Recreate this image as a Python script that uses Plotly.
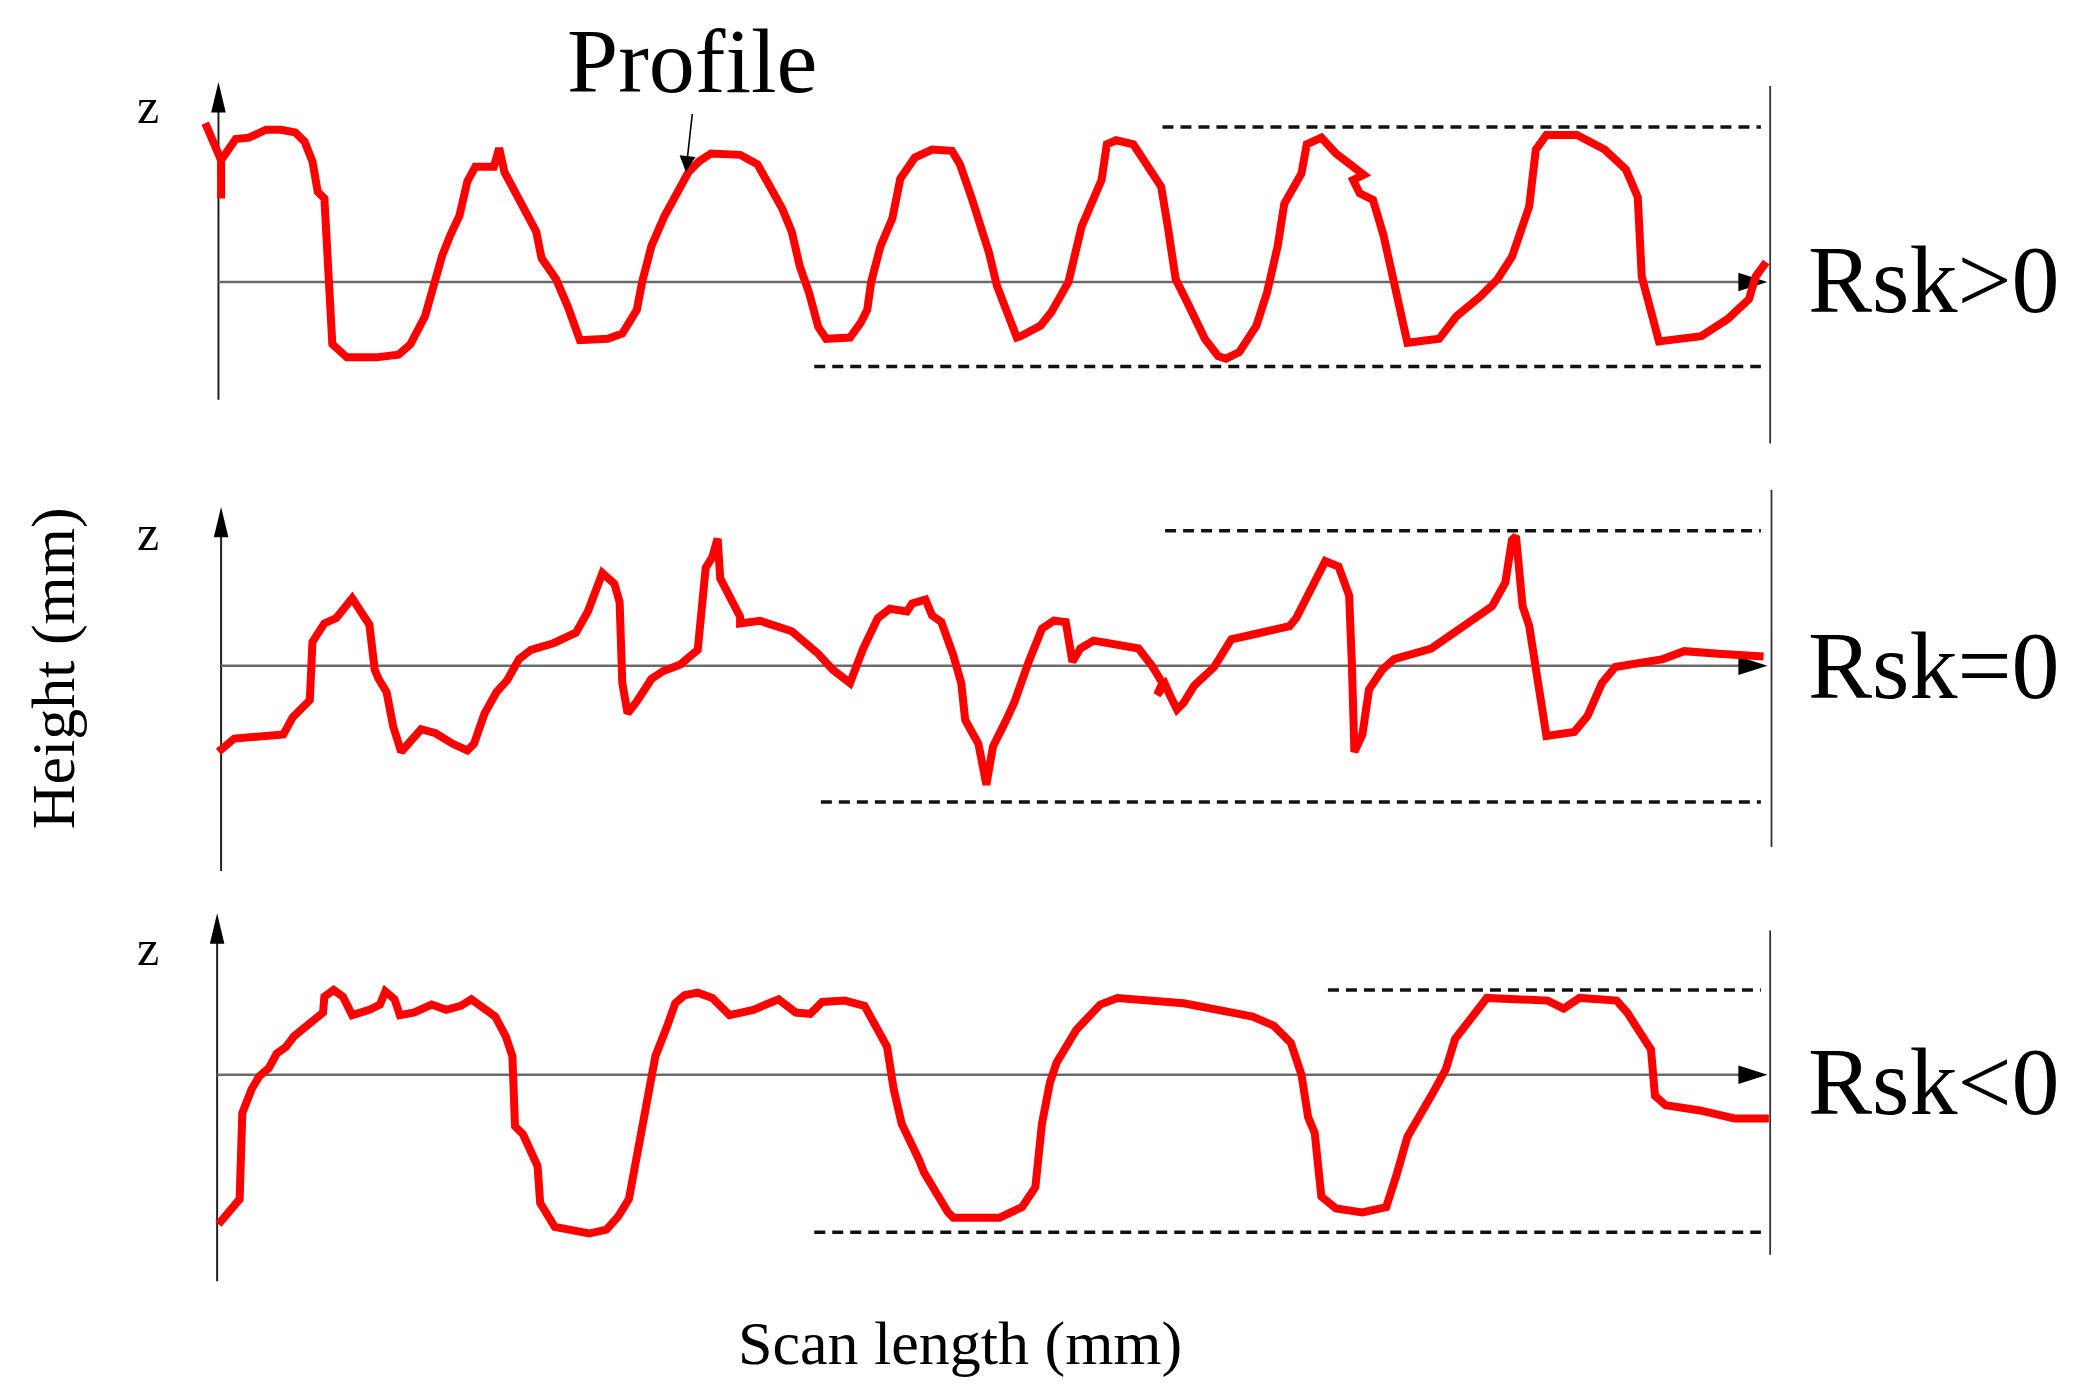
import plotly.graph_objects as go

# Digitised surface profiles: scan position and height about the mean line
# (same arbitrary length unit on both axes, origin at the z axis)
p1_x = [-10, 2, 2, 2, 13, 23, 36, 47, 58, 65,
        71, 75, 80, 83, 86, 97, 119, 136, 145, 156,
        162, 169, 175, 182, 188, 194, 208, 212, 216, 221,
        231, 240, 244, 255, 264, 273, 294, 305, 310, 316,
        320, 327, 337, 346, 355, 363, 372, 394, 407, 416,
        426, 433, 439, 446, 453, 459, 477, 485, 490, 493,
        500, 509, 515, 526, 539, 554, 560, 569, 582, 588,
        597, 603, 606, 621, 629, 642, 652, 667, 671, 678,
        691, 699, 712, 717, 723, 732, 745, 755, 761, 771,
        784, 792, 800, 805, 818, 822, 833, 844, 865, 857,
        862, 872, 880, 888, 893, 898, 922, 935, 953, 966,
        977, 990, 995, 1003, 1026, 1047, 1063, 1072, 1075, 1088,
        1120, 1140, 1156, 1161, 1169]
p1_z = [120, 92, 63, 92, 108, 109, 115, 115, 113, 106,
        91, 68, 63, 2, -47, -57, -57, -55, -47, -26,
        -3, 20, 35, 50, 76, 87, 87, 101, 83, 73,
        53, 38, 18, 2, -19, -44, -43, -39, -31, -21,
        0, 27, 50, 68, 83, 91, 97, 96, 89, 73,
        55, 38, 12, -8, -34, -43, -42, -31, -21, 0,
        27, 48, 78, 94, 100, 99, 89, 63, 22, -3,
        -29, -42, -41, -33, -23, 0, 42, 77, 104, 107,
        104, 92, 72, 42, 2, -16, -43, -56, -58, -53,
        -33, -8, 27, 59, 82, 104, 109, 97, 81, 77,
        67, 62, 35, -1, -23, -46, -43, -26, -11, 2,
        19, 57, 100, 111, 111, 100, 85, 64, 4, -45,
        -41, -28, -13, 4, 15]

p2_x = [0, 12, 49, 56, 64, 69, 71, 80, 89, 101,
        114, 118, 121, 127, 132, 138, 153, 164, 177, 188,
        193, 201, 210, 218, 227, 236, 253, 266, 270, 279,
        284, 290, 299, 303, 305, 309, 316, 327, 336, 349,
        362, 368, 373, 377, 379, 388, 394, 394, 409, 433,
        453, 464, 477, 487, 498, 507, 520, 524, 534, 539,
        546, 555, 561, 564, 574, 580, 585, 594, 601, 612,
        622, 631, 640, 645, 651, 661, 679, 695, 705, 713,
        709, 715, 719, 724, 729, 737, 752, 765, 783, 809,
        814, 826, 836, 846, 854, 856, 858, 864, 869, 879,
        888, 916, 931, 952, 962, 972, 977, 980, 985, 990,
        1003, 1024, 1034, 1045, 1055, 1091, 1107, 1133, 1167]
p2_z = [-65, -55, -52, -39, -31, -26, 18, 32, 36, 51,
        31, -3, -10, -20, -46, -65, -48, -51, -59, -64,
        -59, -36, -20, -11, 5, 12, 17, 22, 25, 41,
        55, 70, 62, 48, -13, -36, -27, -10, -4, 1,
        12, 74, 82, 96, 66, 48, 37, 32, 34, 26,
        9, -3, -13, 13, 36, 43, 41, 47, 50, 38,
        33, 8, -13, -41, -59, -90, -61, -43, -28, 3,
        28, 34, 33, 3, 13, 19, 16, 13, 0, -13,
        -22, -14, -23, -33, -28, -15, -1, 20, 24, 30,
        36, 58, 79, 75, 53, 3, -65, -52, -18, -3,
        5, 13, 23, 38, 45, 63, 95, 98, 45, 30,
        -53, -50, -38, -13, -1, 5, 11, 9, 7]

p3_x = [0, 16, 18, 25, 31, 38, 44, 51, 57, 68,
        79, 80, 87, 94, 101, 114, 122, 126, 133, 137,
        148, 161, 172, 183, 191, 198, 209, 217, 222, 224,
        230, 241, 243, 254, 280, 293, 302, 310, 315, 321,
        326, 330, 339, 345, 352, 362, 373, 386, 404, 423,
        436, 447, 456, 473, 488, 505, 510, 516, 529, 533,
        551, 555, 590, 607, 617, 622, 628, 633, 648, 666,
        679, 729, 781, 797, 810, 818, 823, 828, 833, 844,
        864, 882, 890, 898, 916, 927, 934, 947, 958, 1004,
        1016, 1028, 1056, 1064, 1082, 1085, 1093, 1119, 1145, 1171]
p3_z = [-113, -94, -29, -11, -1, 5, 16, 21, 29, 39,
        47, 59, 64, 59, 45, 49, 53, 63, 57, 45,
        47, 53, 49, 52, 57, 52, 44, 29, 14, -39,
        -45, -69, -97, -115, -120, -117, -107, -94, -67, -42,
        -11, 14, 37, 54, 60, 62, 58, 45, 49, 57,
        47, 46, 55, 56, 52, 21, -11, -37, -64, -74,
        -104, -108, -108, -100, -85, -37, -6, 9, 34, 53,
        58, 54, 44, 37, 24, 0, -32, -44, -92, -101,
        -104, -100, -75, -47, -16, 4, 27, 44, 58, 56,
        50, 58, 56, 47, 19, -16, -23, -27, -33, -33]

rsk_labels = ["Rsk>0", "Rsk=0", "Rsk<0"]
# dashed lines marking the highest peak / deepest valley
peak_level = [117, 102, 64]
peak_start = [713, 715, 838]
valley_level = [-64, -103, -119]
valley_start = [450, 455, 450]
dash_end = 1165

FONT = "Liberation Serif, Times New Roman, serif"

# page geometry: the page body keeps an 8px margin, so the figure is drawn
# inside it and the panel positions are mapped from a 1568 x 1054 grid
PAGE_W, PAGE_H = 2076, 1395
BODY = 8
FIG_W, FIG_H = PAGE_W - 2 * BODY, PAGE_H - 2 * BODY
GRID_W, GRID_H = 1568, 1054
SX, SY = PAGE_W / GRID_W, PAGE_H / GRID_H


def paper_x(p):
    return (p * SX - BODY) / FIG_W


def paper_y(p):
    return 1 - (p * SY - BODY) / FIG_H


AXIS_X = 165                     # grid column of the z axes
base_px = [213, 503, 812]        # grid row of each mean line
window_px = [(40, 350), (355, 670), (675, 985)]
axis_x0 = [0, 2, -1]
axis_top = [151, 120, 122]
axis_bottom = [-89, -155, -156]
frame_x = [1172, 1173, 1172]
frame_z = [(-122, 148), (-137, 133), (-136, 109)]
z_label_z = [133, 100, 96]
rsk_z = [2, 0, -5]
arrow_end = 1170

x_range = [BODY / SX - AXIS_X, (PAGE_W - BODY) / SX - AXIS_X]

fig = go.Figure()
shapes, annotations = [], []

for i, (xs, zs) in enumerate([(p1_x, p1_z), (p2_x, p2_z), (p3_x, p3_z)]):
    n = "" if i == 0 else str(i + 1)
    xa, ya = "x" + n, "y" + n
    top, bot = window_px[i]
    b = base_px[i]
    fig.update_layout(**{
        "xaxis" + n: dict(domain=[0, 1], range=x_range,
                          visible=False, anchor=ya, fixedrange=True),
        "yaxis" + n: dict(domain=[paper_y(bot), paper_y(top)],
                          range=[b - bot, b - top], visible=False,
                          anchor=xa, fixedrange=True),
    })

    dash = dict(color="#111111", width=3.5, dash="11px,7px")
    fig.add_trace(go.Scatter(x=[peak_start[i], dash_end], y=[peak_level[i]] * 2,
                             xaxis=xa, yaxis=ya, mode="lines", line=dash,
                             showlegend=False, hoverinfo="skip"))
    fig.add_trace(go.Scatter(x=[valley_start[i], dash_end], y=[valley_level[i]] * 2,
                             xaxis=xa, yaxis=ya, mode="lines", line=dash,
                             showlegend=False, hoverinfo="skip"))
    fig.add_trace(go.Scatter(x=xs, y=zs, xaxis=xa, yaxis=ya, mode="lines",
                             line=dict(color="#ff0000", width=8),
                             showlegend=False, hoverinfo="skip"))

    x0 = axis_x0[i]
    # z axis with arrow
    shapes.append(dict(type="line", xref=xa, yref=ya, x0=x0, x1=x0,
                       y0=axis_bottom[i], y1=axis_top[i] - 18,
                       line=dict(color="#222222", width=2), layer="below"))
    shapes.append(dict(type="path", xref=xa, yref=ya, layer="below",
                       path=f"M {x0},{axis_top[i]} L {x0 - 5.5},{axis_top[i] - 23} "
                            f"L {x0 + 5.5},{axis_top[i] - 23} Z",
                       fillcolor="#000000", line=dict(width=0)))
    # mean line with arrow
    shapes.append(dict(type="line", xref=xa, yref=ya, x0=x0, x1=arrow_end - 18,
                       y0=0, y1=0, line=dict(color="#6a6a6a", width=2.5),
                       layer="below"))
    shapes.append(dict(type="path", xref=xa, yref=ya, layer="below",
                       path=f"M {arrow_end},0 L {arrow_end - 22},7 L {arrow_end - 22},-7 Z",
                       fillcolor="#000000", line=dict(width=0)))
    # right frame line
    shapes.append(dict(type="line", xref=xa, yref=ya, x0=frame_x[i], x1=frame_x[i],
                       y0=frame_z[i][0], y1=frame_z[i][1],
                       line=dict(color="#333333", width=1.8), layer="below"))

    annotations.append(dict(text="z", xref=xa, yref=ya, x=-53, y=z_label_z[i],
                            showarrow=False, font=dict(family=FONT, size=50, color="black")))
    annotations.append(dict(text=rsk_labels[i], xref=xa, yref=ya, x=1199, y=rsk_z[i],
                            xanchor="left", yanchor="middle", showarrow=False,
                            font=dict(family=FONT, size=96, color="black")))

# "Profile" callout
annotations.append(dict(text="Profile", xref="x", yref="y", x=358, y=167,
                        showarrow=False, font=dict(family=FONT, size=92, color="black")))
annotations.append(dict(text="", xref="x", yref="y", axref="x", ayref="y",
                        x=353, y=83, ax=358, ay=128, showarrow=True,
                        arrowhead=2, arrowsize=2, arrowwidth=1.6, arrowcolor="black"))

annotations.append(dict(text="Height (mm)", xref="paper", yref="paper",
                        x=paper_x(40), y=paper_y(505), xanchor="center",
                        yanchor="middle", textangle=-90, showarrow=False,
                        font=dict(family=FONT, size=62, color="black")))
annotations.append(dict(text="Scan length (mm)", xref="paper", yref="paper",
                        x=paper_x(725), y=paper_y(1015), xanchor="center",
                        yanchor="middle", showarrow=False,
                        font=dict(family=FONT, size=62, color="black")))

fig.update_layout(
    width=FIG_W, height=FIG_H,
    margin=dict(l=0, r=0, t=0, b=0),
    paper_bgcolor="white", plot_bgcolor="rgba(0,0,0,0)",
    shapes=shapes, annotations=annotations,
)

fig.write_html("out.html")
